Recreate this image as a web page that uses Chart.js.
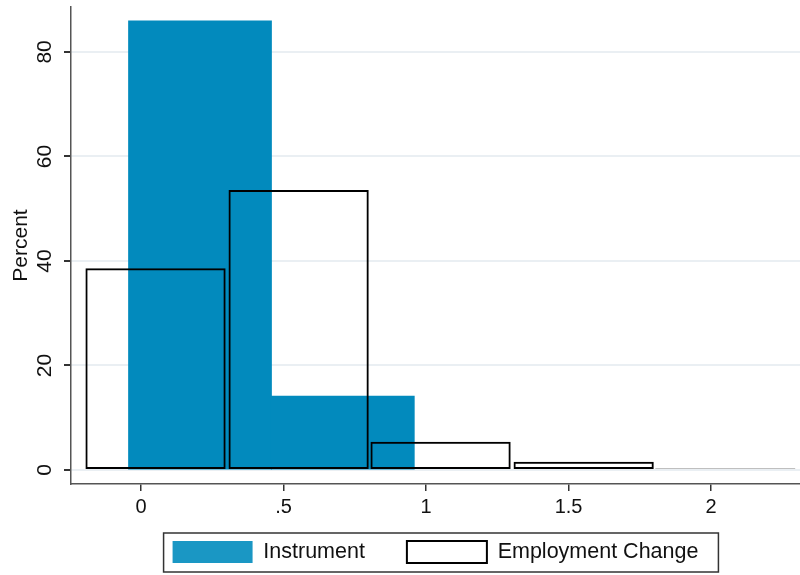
<!DOCTYPE html>
<html>
<head>
<meta charset="utf-8">
<script src="https://cdn.jsdelivr.net/npm/chart.js@4.4.1/dist/chart.umd.min.js"></script>
<style>
  html, body { margin: 0; padding: 0; background: #fff; }
  #wrap { width: 800px; height: 575px; }
</style>
</head>
<body>
<div id="wrap"><canvas id="hist"></canvas></div>
<script>
// histogram data (percent per bin), bin centres on the x axis
const instrumentBins = [0.207, 0.708];
const instrumentPct  = [85.9, 14.1];
const employmentBins = [0.051, 0.553, 1.051, 1.553, 2.05];
const employmentPct  = [38.6, 53.6, 5.4, 1.6, 0.3];

const xTicks = [0, 0.5, 1, 1.5, 2];
const yTicks = [0, 20, 40, 60, 80];

const BLUE = '#028abd';
const FONT = 'Liberation Sans, Arial, Helvetica, sans-serif';

const toPoints = (xs, ys) => xs.map((x, i) => ({ x, y: ys[i] }));
const fmtX = v => (v > 0 && v < 1) ? String(v).replace(/^0/, '') : String(v);

// the x axis is kept short for layout (legend sits close under it),
// so widen its box afterwards or the tick labels get clipped
const axisRoom = {
    id: 'axisRoom',
    afterLayout(chart) {
        const xs = chart.scales.x;
        xs.bottom = xs.top + 40;
    }
};

// box around the legend, Stata style
const legendFrame = {
    id: 'legendFrame',
    afterDraw(chart) {
        const lg = chart.legend;
        if (!lg || !lg.legendHitBoxes.length) return;
        const boxes = lg.legendHitBoxes;
        const last = boxes[boxes.length - 1];
        const left = boxes[0].left - 9;
        const right = last.left + last.width + 20;
        const top = boxes[0].top - 8;
        const bottom = boxes[0].top + boxes[0].height + 9;
        const ctx = chart.ctx;
        ctx.save();
        ctx.strokeStyle = '#333';
        ctx.lineWidth = 1.5;
        ctx.strokeRect(left, top, right - left, bottom - top);
        ctx.restore();
    }
};

new Chart(document.getElementById('hist'), {
    type: 'bar',
    data: {
        datasets: [
            {
                label: 'Instrument',
                data: toPoints(instrumentBins, instrumentPct),
                xAxisID: 'x',
                backgroundColor: BLUE,
                borderWidth: 0,
                inflateAmount: 0.6,
                grouped: false,
                barPercentage: 1, categoryPercentage: 1,
                order: 2,
            },
            {
                label: 'Employment Change',
                data: toPoints(employmentBins, employmentPct),
                xAxisID: 'x2',
                backgroundColor: 'rgba(0,0,0,0)',
                borderColor: '#000',
                borderWidth: 2,
                borderSkipped: false,
                grouped: false,
                barPercentage: 0.99, categoryPercentage: 1,
                order: 1,
            },
        ],
    },
    options: {
        responsive: true, maintainAspectRatio: false,
        animation: false,
        layout: { padding: { top: 7, right: 0, left: 9, bottom: 2 } },
        plugins: {
            tooltip: { enabled: false },
            legend: {
                position: 'bottom',
                fullSize: false,
                labels: {
                    font: { family: FONT, size: 21.5 },
                    color: '#111',
                    boxWidth: 80, boxHeight: 22,
                    padding: 42,
                    sort: (a, b) => a.datasetIndex - b.datasetIndex,
                    generateLabels(chart) {
                        const items = Chart.defaults.plugins.legend.labels.generateLabels(chart);
                        items.forEach(it => {
                            if (it.datasetIndex === 0) {
                                it.fillStyle = '#1a97c4';
                                it.strokeStyle = BLUE;
                                it.lineWidth = 0;
                            }
                        });
                        return items;
                    },
                },
            },
        },
        scales: {
            x: {
                type: 'linear',
                offset: false,
                min: -0.2456, max: 2.312,
                afterBuildTicks: s => { s.ticks = xTicks.map(v => ({ value: v })); },
                afterFit: s => { s.height = 15; },
                ticks: { callback: v => fmtX(v), font: { family: FONT, size: 20 }, color: '#111', padding: 4 },
                grid: { offset: false, drawOnChartArea: false, tickLength: 7, tickColor: '#333', lineWidth: 1.5 },
                border: { color: '#555', width: 1.5 },
            },
            x2: {
                type: 'linear',
                display: false,
                offset: false,
                min: -0.2456, max: 2.312,
                afterBuildTicks: s => { s.ticks = xTicks.map(v => ({ value: v })); },
                grid: { offset: false },
            },
            y: {
                min: -2.68, max: 88.6,
                afterBuildTicks: s => { s.ticks = yTicks.map(v => ({ value: v })); },
                afterFit: s => { s.width = 62; s.paddingTop = 0; s.paddingBottom = 0; },
                ticks: { font: { family: FONT, size: 21 }, color: '#111', minRotation: 90, maxRotation: 90, crossAlign: 'center', padding: 7 },
                grid: { color: '#eaeff3', lineWidth: 2, tickLength: 7, tickColor: '#333' },
                border: { color: '#555', width: 1.5 },
                title: { display: true, text: 'Percent', font: { family: FONT, size: 21 }, color: '#111', padding: { top: 0, bottom: 0 } },
            },
        },
    },
    plugins: [axisRoom, legendFrame],
});
</script>
</body>
</html>
